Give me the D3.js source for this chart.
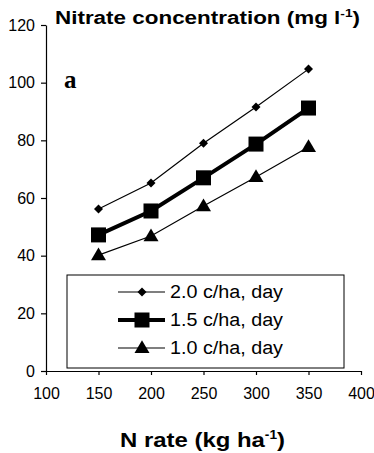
<!DOCTYPE html>
<html lang="en">
<head>
    <meta charset="UTF-8">
    <title>Nitrate concentration</title>
    <style>
        body { margin: 0; padding: 0; background: #fff; overflow: hidden; }
        svg { display: block; }
        .tick text { font-family: Arial, "Liberation Sans", sans-serif; font-size: 16px; fill: #000; }
        .domain, .tick line { stroke: #000; stroke-width: 1.2px; }
    </style>
</head>
<body>
    <script src="https://d3js.org/d3.v7.min.js"></script>
    <script>
        // data
        const nRate = [150, 200, 250, 300, 350];
        const c20 = [56.2, 65.2, 79.0, 91.6, 104.7];
        const c15 = [47.2, 55.5, 67.0, 78.7, 91.2];
        const c10 = [40.2, 46.8, 57.2, 67.3, 77.7];
        const seriesNames = ["2.0 c/ha, day", "1.5 c/ha, day", "1.0 c/ha, day"];
        const xTicks = [100, 150, 200, 250, 300, 350, 400];
        const yTicks = [0, 20, 40, 60, 80, 100, 120];

        const width = 374, height = 453;

        const svg = d3.select("body").append("svg")
            .attr("width", width)
            .attr("height", height);

        const x = d3.scaleLinear().domain([100, 400]).range([46, 361]);
        const y = d3.scaleLinear().domain([0, 120]).range([371, 25]);

        // axes
        svg.append("g")
            .attr("transform", `translate(0,${y(0)})`)
            .call(d3.axisBottom(x).tickValues(xTicks).tickSize(4).tickPadding(10).tickSizeOuter(0))
            .selectAll("text").attr("dy", "0.9em");

        svg.append("g")
            .attr("transform", `translate(${x(100)},0)`)
            .call(d3.axisLeft(y).tickValues(yTicks).tickSize(5).tickPadding(6).tickSizeOuter(0));

        const series = [
            { name: seriesNames[0], values: c20, lw: 1.2, shape: "diamond", size: 9 },
            { name: seriesNames[1], values: c15, lw: 4, shape: "square", size: 15 },
            { name: seriesNames[2], values: c10, lw: 1.2, shape: "triangle", size: 15 }
        ];

        function marker(sel, shape, s) {
            if (shape === "diamond") {
                const h = s / 2;
                sel.append("path").attr("d", `M0,${-h}L${h},0L0,${h}L${-h},0Z`).attr("fill", "#000");
            } else if (shape === "square") {
                sel.append("rect").attr("x", -s / 2).attr("y", -s / 2)
                    .attr("width", s).attr("height", s).attr("fill", "#000");
            } else {
                const h = s * 0.85;
                sel.append("path")
                    .attr("d", `M0,${-h * 0.6}L${s / 2},${h * 0.4}L${-s / 2},${h * 0.4}Z`)
                    .attr("fill", "#000");
            }
        }

        const line = d3.line().x((d, i) => x(nRate[i])).y(d => y(d));

        series.forEach(s => {
            svg.append("path")
                .datum(s.values)
                .attr("d", line)
                .attr("fill", "none")
                .attr("stroke", "#000")
                .attr("stroke-width", s.lw);

            s.values.forEach((v, i) => {
                const g = svg.append("g").attr("transform", `translate(${x(nRate[i])},${y(v)})`);
                marker(g, s.shape, s.size);
            });
        });

        // legend
        const legend = svg.append("g");
        legend.append("rect")
            .attr("x", 67).attr("y", 275)
            .attr("width", 277).attr("height", 93)
            .attr("fill", "#fff").attr("stroke", "#000").attr("stroke-width", 1);

        series.forEach((s, i) => {
            const ly = 292 + i * 28;
            legend.append("line")
                .attr("x1", 118).attr("x2", 165)
                .attr("y1", ly).attr("y2", ly)
                .attr("stroke", "#000").attr("stroke-width", s.lw);
            const g = legend.append("g").attr("transform", `translate(142,${ly})`);
            marker(g, s.shape, s.size);
            legend.append("text")
                .attr("x", 170).attr("y", ly + 6)
                .attr("font-family", "Arial, 'Liberation Sans', sans-serif")
                .attr("font-size", 18)
                .attr("textLength", 113)
                .attr("lengthAdjust", "spacingAndGlyphs")
                .text(s.name);
        });

        // title
        const title = svg.append("text")
            .attr("x", 55).attr("y", 24)
            .attr("font-family", "Arial, 'Liberation Sans', sans-serif")
            .attr("font-weight", "bold")
            .attr("font-size", 18)
            .attr("textLength", 305)
            .attr("lengthAdjust", "spacingAndGlyphs");
        title.append("tspan").text("Nitrate concentration (mg l");
        title.append("tspan").attr("dy", -7).attr("font-size", 11).text("-1");
        title.append("tspan").attr("dy", 7).text(")");

        // panel letter
        svg.append("text")
            .attr("x", 64).attr("y", 88)
            .attr("font-family", "'Liberation Serif', 'Times New Roman', serif")
            .attr("font-weight", "bold")
            .attr("font-size", 25)
            .text("a");

        // x axis title
        const xl = svg.append("text")
            .attr("x", 120).attr("y", 447)
            .attr("font-family", "Arial, 'Liberation Sans', sans-serif")
            .attr("font-weight", "bold")
            .attr("font-size", 21)
            .attr("textLength", 165)
            .attr("lengthAdjust", "spacingAndGlyphs");
        xl.append("tspan").text("N rate (kg ha");
        xl.append("tspan").attr("dy", -8).attr("font-size", 12).text("-1");
        xl.append("tspan").attr("dy", 8).text(")");
    </script>
</body>
</html>
